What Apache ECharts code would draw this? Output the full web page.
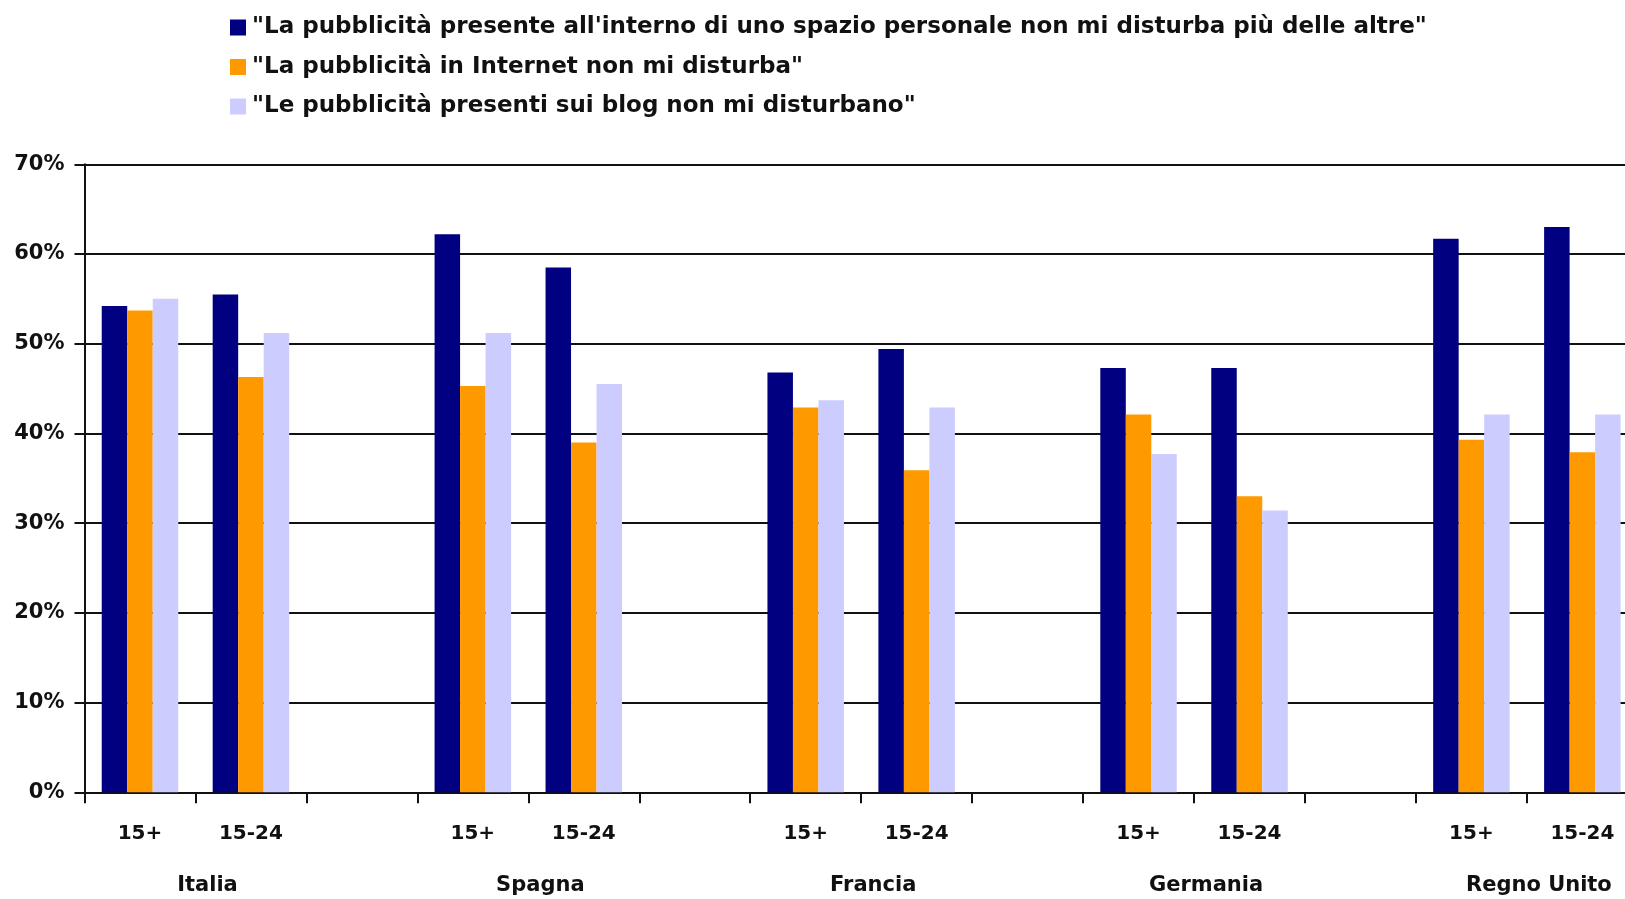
<!DOCTYPE html>
<html>
<head>
<meta charset="utf-8">
<title>Pubblicità online</title>
<script src="https://cdn.jsdelivr.net/npm/echarts@6/dist/echarts.min.js"></script>
<style>
  html, body { margin: 0; padding: 0; background: #fff; overflow: hidden; }
  #chart { width: 1760px; height: 899px; }
</style>
</head>
<body>
<div id="chart"></div>
<script>
// Countries and age bands; each country takes two bar groups plus one empty slot
const countries = ['Italia', 'Spagna', 'Francia', 'Germania', 'Regno Unito'];
const ageBands = ['15+', '15-24'];

// Share of respondents (%) agreeing, in order: country x age band
const seriesNames = [
  '"La pubblicità presente all\'interno di uno spazio personale non mi disturba più delle altre"',
  '"La pubblicità in Internet non mi disturba"',
  '"Le pubblicità presenti sui blog non mi disturbano"'
];
const spazioPersonale = [54.2, 55.5, 62.2, 58.5, 46.8, 49.4, 47.3, 47.3, 61.7, 63.0];
const internet        = [53.7, 46.3, 45.3, 39.0, 42.9, 35.9, 42.1, 33.0, 39.3, 37.9];
const blog            = [55.0, 51.2, 51.2, 45.5, 43.7, 42.9, 37.7, 31.4, 42.1, 42.1];

const colors = ['#000080', '#FF9900', '#CCCCFF'];
const FONT = 'DejaVu Sans';

// Expand to the slot layout: 15+, 15-24, gap for every country
const slotLabels = [];
countries.forEach(() => { slotLabels.push(...ageBands, ''); });

function toSlots(values) {
  const out = [];
  countries.forEach((c, ci) => {
    ageBands.forEach((a, ai) => out.push(values[ci * ageBands.length + ai]));
    out.push('-');
  });
  return out;
}

// Country names sit between the two age-band slots of each group
const countryAt = {};
countries.forEach((c, ci) => { countryAt[ci * 3 + 1] = c; });

const chart = echarts.init(document.getElementById('chart'));

chart.setOption({
  backgroundColor: '#fff',
  animation: false,
  textStyle: { fontFamily: FONT },
  legend: {
    orient: 'vertical',
    left: 225,
    top: 11,
    itemWidth: 16,
    itemHeight: 16,
    itemGap: 16.5,
    icon: 'rect',
    textStyle: {
      fontFamily: FONT,
      fontWeight: 'bold',
      fontSize: 23,
      lineHeight: 23,
      color: '#111',
      padding: [0, 0, 0, 1]
    },
    data: seriesNames
  },
  grid: {
    left: 84.5,
    right: 11.2,
    top: 164.3,
    bottom: 106.7,
    containLabel: false
  },
  xAxis: [
    {
      type: 'category',
      data: slotLabels,
      boundaryGap: true,
      axisLine: { lineStyle: { color: '#111', width: 2 } },
      axisTick: { show: true, interval: 0, length: 11, lineStyle: { color: '#111', width: 2 } },
      axisLabel: {
        interval: 0,
        margin: 31,
        fontFamily: FONT,
        fontWeight: 'bold',
        fontSize: 20,
        color: '#111'
      },
      splitLine: { show: false }
    },
    {
      type: 'value',
      position: 'bottom',
      min: 0,
      max: slotLabels.length,
      interval: 1,
      axisLine: { show: false },
      axisTick: { show: false },
      splitLine: { show: false },
      axisLabel: {
        margin: 83,
        showMinLabel: true,
        showMaxLabel: true,
        fontFamily: FONT,
        fontWeight: 'bold',
        fontSize: 21,
        color: '#111',
        padding: [0, 0, 0, 24],
        formatter: v => countryAt[v] || ''
      }
    }
  ],
  yAxis: {
    type: 'value',
    min: 0,
    max: 70,
    interval: 10,
    axisLine: { show: true, lineStyle: { color: '#111', width: 2 } },
    axisTick: { show: true, length: 10, lineStyle: { color: '#111', width: 2 } },
    axisLabel: {
      margin: 20,
      fontFamily: FONT,
      fontWeight: 'bold',
      fontSize: 21,
      color: '#111',
      formatter: '{value}%'
    },
    splitLine: { show: true, lineStyle: { color: '#111', width: 2 } }
  },
  series: [spazioPersonale, internet, blog].map((vals, i) => ({
    name: seriesNames[i],
    type: 'bar',
    xAxisIndex: 0,
    barWidth: 25.5,
    barGap: '0%',
    itemStyle: { color: colors[i] },
    data: toSlots(vals)
  }))
});
</script>
</body>
</html>
